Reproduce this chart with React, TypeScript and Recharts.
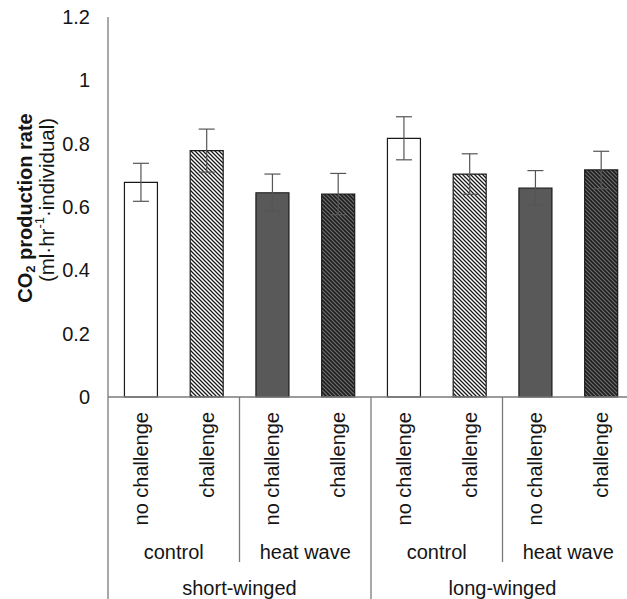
import React from 'react';
import { BarChart, Bar, XAxis, YAxis, ErrorBar, Cell } from 'recharts';

const morphs = ['short-winged', 'long-winged'];
const treatments = ['control', 'heat wave'];
const challenges = ['no challenge', 'challenge'];
const rates = [0.678, 0.778, 0.645, 0.641, 0.817, 0.704, 0.66, 0.717];
const errors = [0.06, 0.068, 0.059, 0.065, 0.068, 0.064, 0.055, 0.059];
const yTicks = [0, 0.2, 0.4, 0.6, 0.8, 1, 1.2];

const FILLS: Record<string, string> = {
  'control|no challenge': '#ffffff',
  'control|challenge': 'url(#hatchLight)',
  'heat wave|no challenge': '#595959',
  'heat wave|challenge': 'url(#hatchDark)',
};

const data: any[] = [];
morphs.forEach((m) =>
  treatments.forEach((t) =>
    challenges.forEach((c) => {
      const i = data.length;
      data.push({ key: `${m}|${t}|${c}`, morph: m, treatment: t, challenge: c, rate: rates[i], err: errors[i] });
    })
  )
);

const W = 640;
const H = 599;
const M = { top: 17, right: 6, left: 48, bottom: 0 };
const YW = 60;
const XH = 202;
const BAND = (W - M.left - M.right - YW) / data.length;
const FONT = 'Liberation Sans, Arial, sans-serif';
const TXT = '#151515';
const LINE = '#7a7a7a';

const XTick = (props: any) => {
  const { x, y, payload } = props;
  const i = payload.index;
  const d = data[i];
  const els: any[] = [];
  els.push(
    <text key="c" x={x} y={y + 15} transform={`rotate(-90 ${x} ${y + 15})`} textAnchor="end" dominantBaseline="central" fontSize={20} fill={TXT} fontFamily={FONT}>
      {d.challenge}
    </text>
  );
  if (i % 2 === 0) {
    const lx = x - BAND / 2;
    els.push(<line key="d" x1={lx} x2={lx} y1={y} y2={y + (i % 4 === 0 ? 220 : 165)} stroke={LINE} strokeWidth={1.3} />);
  }
  if (i === data.length - 1) {
    const lx = x + BAND / 2;
    els.push(<line key="e" x1={lx} x2={lx} y1={y} y2={y + 220} stroke={LINE} strokeWidth={1.3} />);
  }
  if (i % 2 === 1) {
    els.push(
      <text key="t" x={x - BAND / 2} y={y + 155} textAnchor="middle" dominantBaseline="central" fontSize={20} fill={TXT} fontFamily={FONT}>
        {d.treatment}
      </text>
    );
  }
  if (i % 4 === 1) {
    els.push(
      <text key="m" x={x + BAND / 2} y={y + 191} textAnchor="middle" dominantBaseline="central" fontSize={20} fill={TXT} fontFamily={FONT}>
        {d.morph}
      </text>
    );
  }
  return <g>{els}</g>;
};

const YLabel = () => (
  <g>
    <text x={25} y={208} transform="rotate(-90 25 208)" textAnchor="middle" dominantBaseline="central" fontSize={20} fontWeight="bold" fill={TXT} fontFamily={FONT}>
      <tspan>CO</tspan>
      <tspan fontSize={13} dy={5}>2</tspan>
      <tspan dy={-5}> production rate</tspan>
    </text>
    <text x={46} y={200} transform="rotate(-90 46 200)" textAnchor="middle" dominantBaseline="central" fontSize={20.5} fill={TXT} fontFamily={FONT}>
      <tspan>(ml·hr</tspan>
      <tspan fontSize={13} dy={-7}>-1</tspan>
      <tspan dy={7}>·individual)</tspan>
    </text>
  </g>
);

export default function App() {
  return (
    <div style={{ position: 'absolute', left: 0, top: 0, width: 627, height: 599, overflow: 'hidden', background: '#fff' }}>
      <BarChart width={W} height={H} data={data} margin={M} barCategoryGap="25%" style={{ fontFamily: FONT }}>
        <defs>
          <pattern id="hatchLight" patternUnits="userSpaceOnUse" width={4} height={4}>
            <rect width={4} height={4} fill="#ffffff" />
            <path d="M-1,-1 L5,5 M-1,3 L1,5 M3,-1 L5,1" stroke="#1a1a1a" strokeWidth={1.3} />
          </pattern>
          <pattern id="hatchDark" patternUnits="userSpaceOnUse" width={4} height={4}>
            <rect width={4} height={4} fill="#1e1e1e" />
            <path d="M-1,-1 L5,5 M-1,3 L1,5 M3,-1 L5,1" stroke="#6e6e6e" strokeWidth={1.2} />
          </pattern>
        </defs>
        <XAxis
          dataKey="key"
          type="category"
          height={XH}
          interval={0}
          axisLine={{ stroke: LINE, strokeWidth: 1.3 }}
          tickLine={false}
          tickSize={0}
          tickMargin={0}
          tick={<XTick />}
        />
        <YAxis
          width={YW}
          domain={[0, 1.2]}
          ticks={yTicks}
          interval={0}
          axisLine={{ stroke: LINE, strokeWidth: 1.3 }}
          tickLine={false}
          tickSize={0}
          tickMargin={18}
          tick={{ fontSize: 20, fill: TXT, fontFamily: FONT }}
          tickFormatter={(v: number) => String(v)}
          label={{ content: () => <YLabel /> }}
        />
        <Bar dataKey="rate" isAnimationActive={false} stroke="#1a1a1a" strokeWidth={1.2}>
          {data.map((d) => (
            <Cell key={d.key} fill={FILLS[`${d.treatment}|${d.challenge}`]} />
          ))}
          <ErrorBar dataKey="err" width={8} stroke="#555" strokeWidth={1.2} isAnimationActive={false} />
        </Bar>
      </BarChart>
    </div>
  );
}
